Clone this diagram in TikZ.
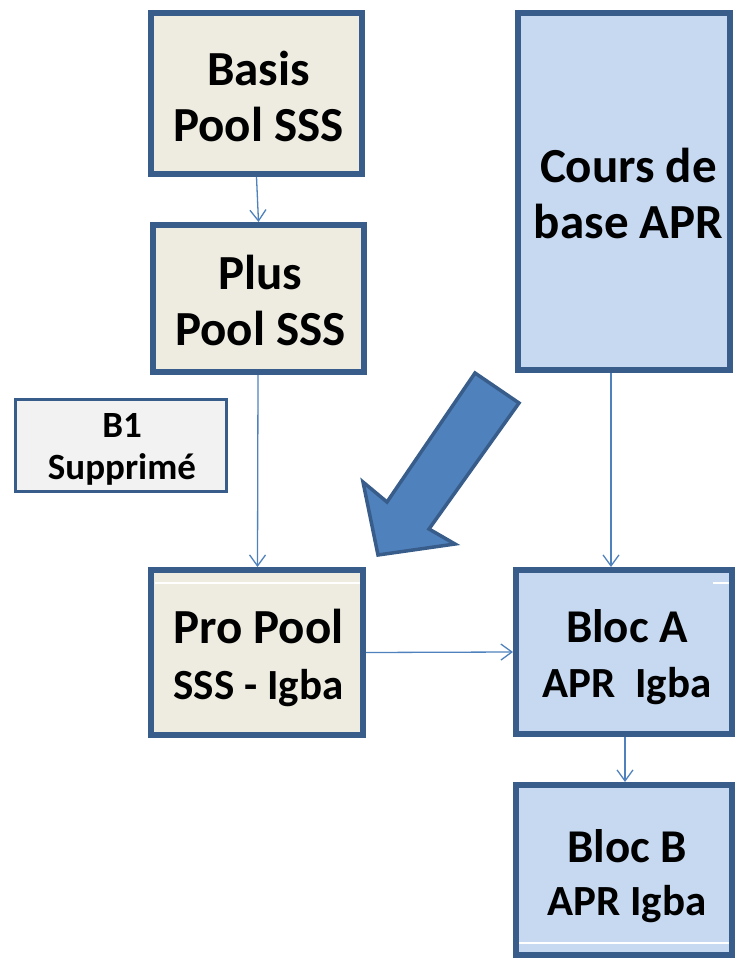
\documentclass[tikz,border=0pt]{standalone}
\usepackage{fontspec}
\setmainfont{Carlito}
\usetikzlibrary{arrows.meta}
\definecolor{bord}{HTML}{385D8A}
\definecolor{tan}{HTML}{EEECE1}
\definecolor{lblue}{HTML}{C6D9F1}
\definecolor{mblue}{HTML}{4F81BD}
\definecolor{lgray}{HTML}{F2F2F2}
\tikzset{
  box/.style={draw=bord, line width=6pt, rectangle, inner sep=0pt},
  tanbox/.style={box, fill=tan},
  bluebox/.style={box, fill=lblue},
  txt/.style={inner sep=0pt, align=center, font=\bfseries\fontsize{49}{56}\selectfont},
  conn/.style={draw=mblue, line width=1.3pt, -{Straight Barb[length=11pt,width=16pt,line width=1.3pt]}},
  artline/.style={draw=white, line width=1.2pt}
}
\begin{document}
\begin{tikzpicture}[x=1pt,y=-1pt]
\useasboundingbox (0,0) rectangle (743,963);
% boxes
\node[tanbox, minimum width=211pt, minimum height=161pt] (basis) at (256.5,93.5) {};
\node[tanbox, minimum width=211pt, minimum height=147pt] (plus) at (258.5,298.5) {};
\node[tanbox, minimum width=212pt, minimum height=165pt] (pro) at (257,652.5) {};
\node[bluebox, minimum width=212pt, minimum height=357pt] (cours) at (624,191.5) {};
\node[bluebox, minimum width=216pt, minimum height=164pt] (blocA) at (624,652) {};
\node[bluebox, minimum width=216pt, minimum height=170pt] (blocB) at (624,870) {};
\node[box, fill=lgray, line width=3pt, minimum width=211pt, minimum height=92pt] (b1) at (121,445.5) {};
% texts
\node[txt] (basis-t) at (258.5,96.5) {Basis\\Pool SSS};
\node[txt] (plus-t) at (260.5,300) {Plus\\Pool SSS};
\node[txt] (pro-t) at (258.5,657.5) {Pro Pool\\{\fontsize{43}{56}\selectfont SSS - Igba}};
\node[txt] (cours-t) at (628.5,193.5) {Cours de\\base APR};
\node[txt, font=\bfseries\fontsize{47}{55}\selectfont] (blocA-t) at (627,657.5) {Bloc A\\{\fontsize{43}{55}\selectfont APR\ \ Igba}};
\node[txt, font=\bfseries\fontsize{47}{53}\selectfont] (blocB-t) at (627,876.5) {Bloc B\\{\fontsize{43}{53}\selectfont APR Igba}};
\node[txt, font=\bfseries\fontsize{37}{42}\selectfont] (b1-t) at (122,449) {B1\\Supprimé};
% artifact white lines
\draw[artline] (155,583) -- (360,583);
\draw[artline] (713,583) -- (729,583);
\draw[artline] (519,943) -- (729,943);
% connectors
\draw[conn] (basis.south) -- (plus.north);
\draw[conn] ([xshift=-0.5pt]plus.south) -- ([xshift=0.5pt]pro.north);
\draw[conn] ([xshift=-13pt]cours.south) -- ([xshift=-13pt]blocA.north);
\draw[conn] (pro.east) -- (blocA.west);
\draw[conn] ([xshift=1pt]blocA.south) -- ([xshift=1pt]blocB.north);
% big block arrow
\filldraw[fill=mblue, draw=bord, line width=3.5pt, line join=miter]
  (475,373) -- (519,403) -- (429,529) -- (455,544) -- (378,555) -- (363,482) -- (387,502) -- cycle;
\end{tikzpicture}
\end{document}
